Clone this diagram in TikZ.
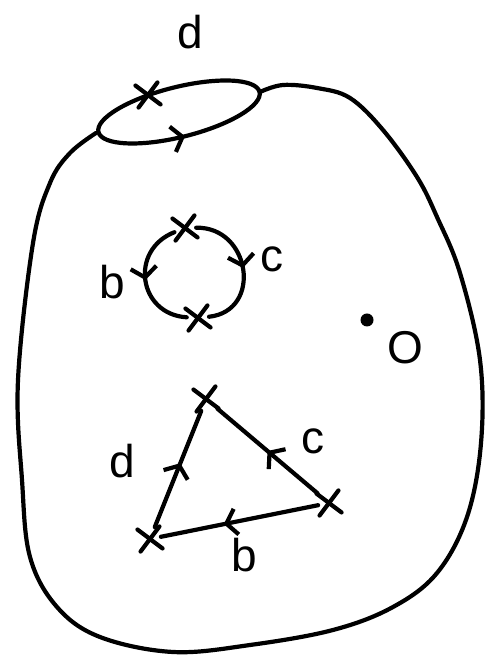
\documentclass[tikz,border=0pt]{standalone}
\usepackage{fontspec}
\setmainfont{Liberation Sans}
\usetikzlibrary{arrows.meta,decorations.markings,shapes.misc}
\tikzset{
  ink/.style={line width=4.2pt, line cap=round, line join=round},
  xmark/.style={cross out, draw, line width=4.2pt, line cap=round, minimum size=18pt, inner sep=0pt, rotate=8},
  lbl/.style={font=\fontsize{46}{46}\selectfont, inner sep=0pt},
  midarrow/.style={postaction={decorate, decoration={markings,
      mark=at position #1 with {\arrow[line width=4.2pt]{Straight Barb[length=10pt,width=26pt]}}}}},
}
\begin{document}
\begin{tikzpicture}[x=1pt,y=1pt]
\useasboundingbox (0,0) rectangle (491,666);
% outer surface
\draw[ink] plot[smooth, tension=0.6] coordinates {(260,574) (283,581) (317,578) (350,568) (383,536) (417,489) (437,449) (460,393) (480,306) (481,223) (467,149) (437,93) (393,59) (333,36) (250,21) (173,14) (100,29) (57,59) (30,109) (22,186) (18,286) (33,423) (50,483) (70,513) (96,533)};
% boundary ellipse d
\draw[ink, rotate around={14:(179,554)}, midarrow=0.75] (179,554) ellipse [x radius=83, y radius=25];
\node[xmark] (ex) at (148,571) {};
\node[lbl] (ld) at (190,634) {d};
% small circle
\node[xmark] (ct) at (185,438) {};
\node[xmark] (cb) at (198,348) {};
\draw[ink, midarrow=0.5] (ct) to[out=0, in=5, looseness=1.55] (cb);
\draw[ink, midarrow=0.5] (ct) to[out=200, in=175, looseness=1.45] (cb);
\node[lbl] (lc1) at (272,407) {c};
\node[lbl] (lb1) at (112,384) {b};
% point O
\node[circle, fill, inner sep=0pt, minimum size=13pt] (p) at (367,346) {};
\node[lbl] (lO) at (405,318) {O};
% triangle
\node[xmark] (tt) at (206,267) {};
\node[xmark] (tr) at (329,163) {};
\node[xmark] (tb) at (150,127) {};
\draw[ink, midarrow=0.55] (tb) -- (tt);
\draw[ink, midarrow=0.5] (tr) -- (tt);
\draw[ink, midarrow=0.6] (tr) -- (tb);
\node[lbl] (ld2) at (122,205) {d};
\node[lbl] (lc2) at (313,225) {c};
\node[lbl] (lb2) at (244,111) {b};
\end{tikzpicture}
\end{document}
